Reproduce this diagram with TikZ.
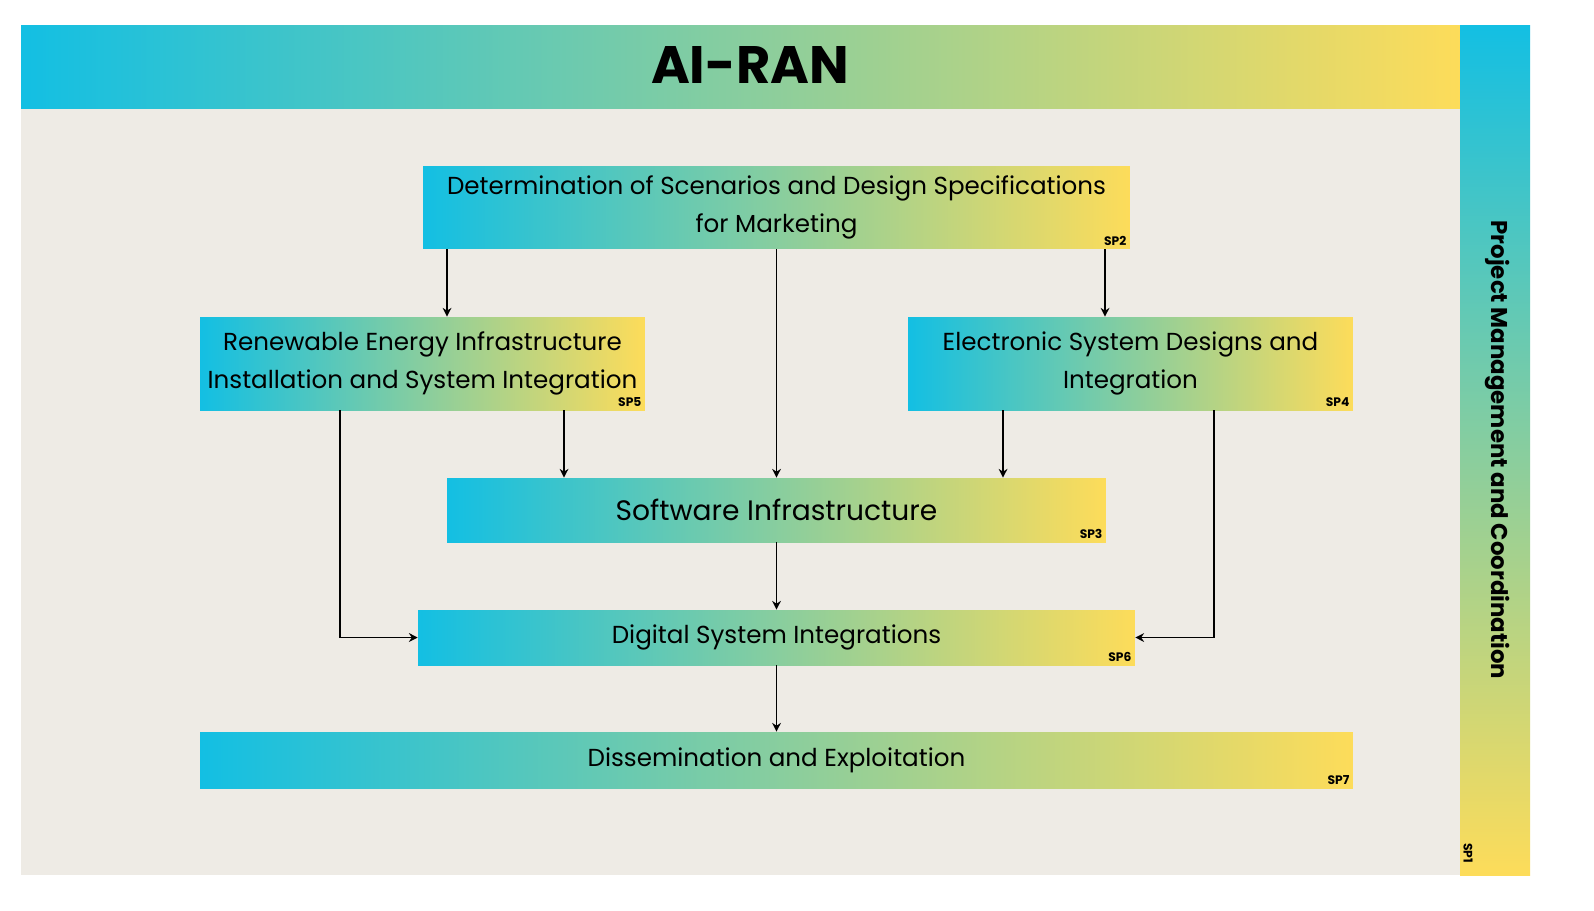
\documentclass[tikz,border=0pt]{standalone}
\usepackage{fontspec}
\setmainfont{Poppins}
\usetikzlibrary{arrows.meta}
\definecolor{aicyan}{HTML}{13BFE3}
\definecolor{aiyellow}{HTML}{FDDC5A}
\definecolor{panelgray}{HTML}{EEEBE5}
\tikzset{
  spbox/.style={left color=aicyan, right color=aiyellow, inner sep=0pt, align=center, font=\fontsize{14}{22}\selectfont},
  sptag/.style={anchor=south east, inner sep=2pt, font=\bfseries\fontsize{7}{8}\selectfont},
  flow/.style={line width=1.1pt, -{Stealth[length=5pt,width=5pt]}}
}
\begin{document}
\begin{tikzpicture}[x=0.02cm,y=-0.02cm]
		\useasboundingbox[fill=white] (0,0) rectangle (1594,910);
		% panel, banner and side bar
		\fill[panelgray] (21,25) rectangle (1460,875);
		\shade[left color=aicyan, right color=aiyellow] (21,25) rectangle (1460,108);
		\node[font=\bfseries\fontsize{30}{36}\selectfont] (title) at (750,65) {AI-RAN};
		\shade[top color=aicyan, bottom color=aiyellow] (1460,25) rectangle (1530,875);
		\node[rotate=-90, font=\bfseries\fontsize{13}{16}\selectfont] (pm) at (1497,450) {Project Management and Coordination};
		\node[rotate=-90, font=\bfseries\fontsize{7}{8}\selectfont] (sp1) at (1468,853) {SP1};

		% the work packages
		\node[spbox, minimum width=14.14cm, minimum height=1.66cm] (sp2) at (776.5,207.5) {Determination of Scenarios and Design Specifications\\for Marketing};
		\node[spbox, minimum width=8.9cm, minimum height=1.86cm] (sp5) at (422.5,363.5) {Renewable Energy Infrastructure\\Installation and System Integration};
		\node[spbox, minimum width=8.9cm, minimum height=1.86cm] (sp4) at (1130.5,363.5) {Electronic System Designs and\\Integration};
		\node[spbox, minimum width=13.18cm, minimum height=1.28cm, font=\fontsize{16}{20}\selectfont] (sp3) at (776.5,510) {Software Infrastructure};
		\node[spbox, minimum width=14.34cm, minimum height=1.1cm] (sp6) at (776.5,637.5) {Digital System Integrations};
		\node[spbox, minimum width=23.06cm, minimum height=1.12cm] (sp7) at (776.5,760) {Dissemination and Exploitation};

		% tags
		\node[sptag] at (sp2.south east) {SP2};
		\node[sptag] at (sp5.south east) {SP5};
		\node[sptag] at (sp4.south east) {SP4};
		\node[sptag] at (sp3.south east) {SP3};
		\node[sptag] at (sp6.south east) {SP6};
		\node[sptag] at (sp7.south east) {SP7};

		% arrows
		\draw[flow] (sp2.south -| 447,0) -- (sp5.north -| 447,0);
		\draw[flow] (sp2.south -| 1105,0) -- (sp4.north -| 1105,0);
		\draw[flow] (sp2.south) -- (sp3.north);
		\draw[flow] (sp5.south -| 564,0) -- (sp3.north -| 564,0);
		\draw[flow] (sp4.south -| 1003,0) -- (sp3.north -| 1003,0);
		\draw[flow] (sp5.south -| 340,0) |- (sp6.west);
		\draw[flow] (sp4.south -| 1214,0) |- (sp6.east);
		\draw[flow] (sp3.south) -- (sp6.north);
		\draw[flow] (sp6.south) -- (sp7.north);
	\end{tikzpicture}
\end{document}
